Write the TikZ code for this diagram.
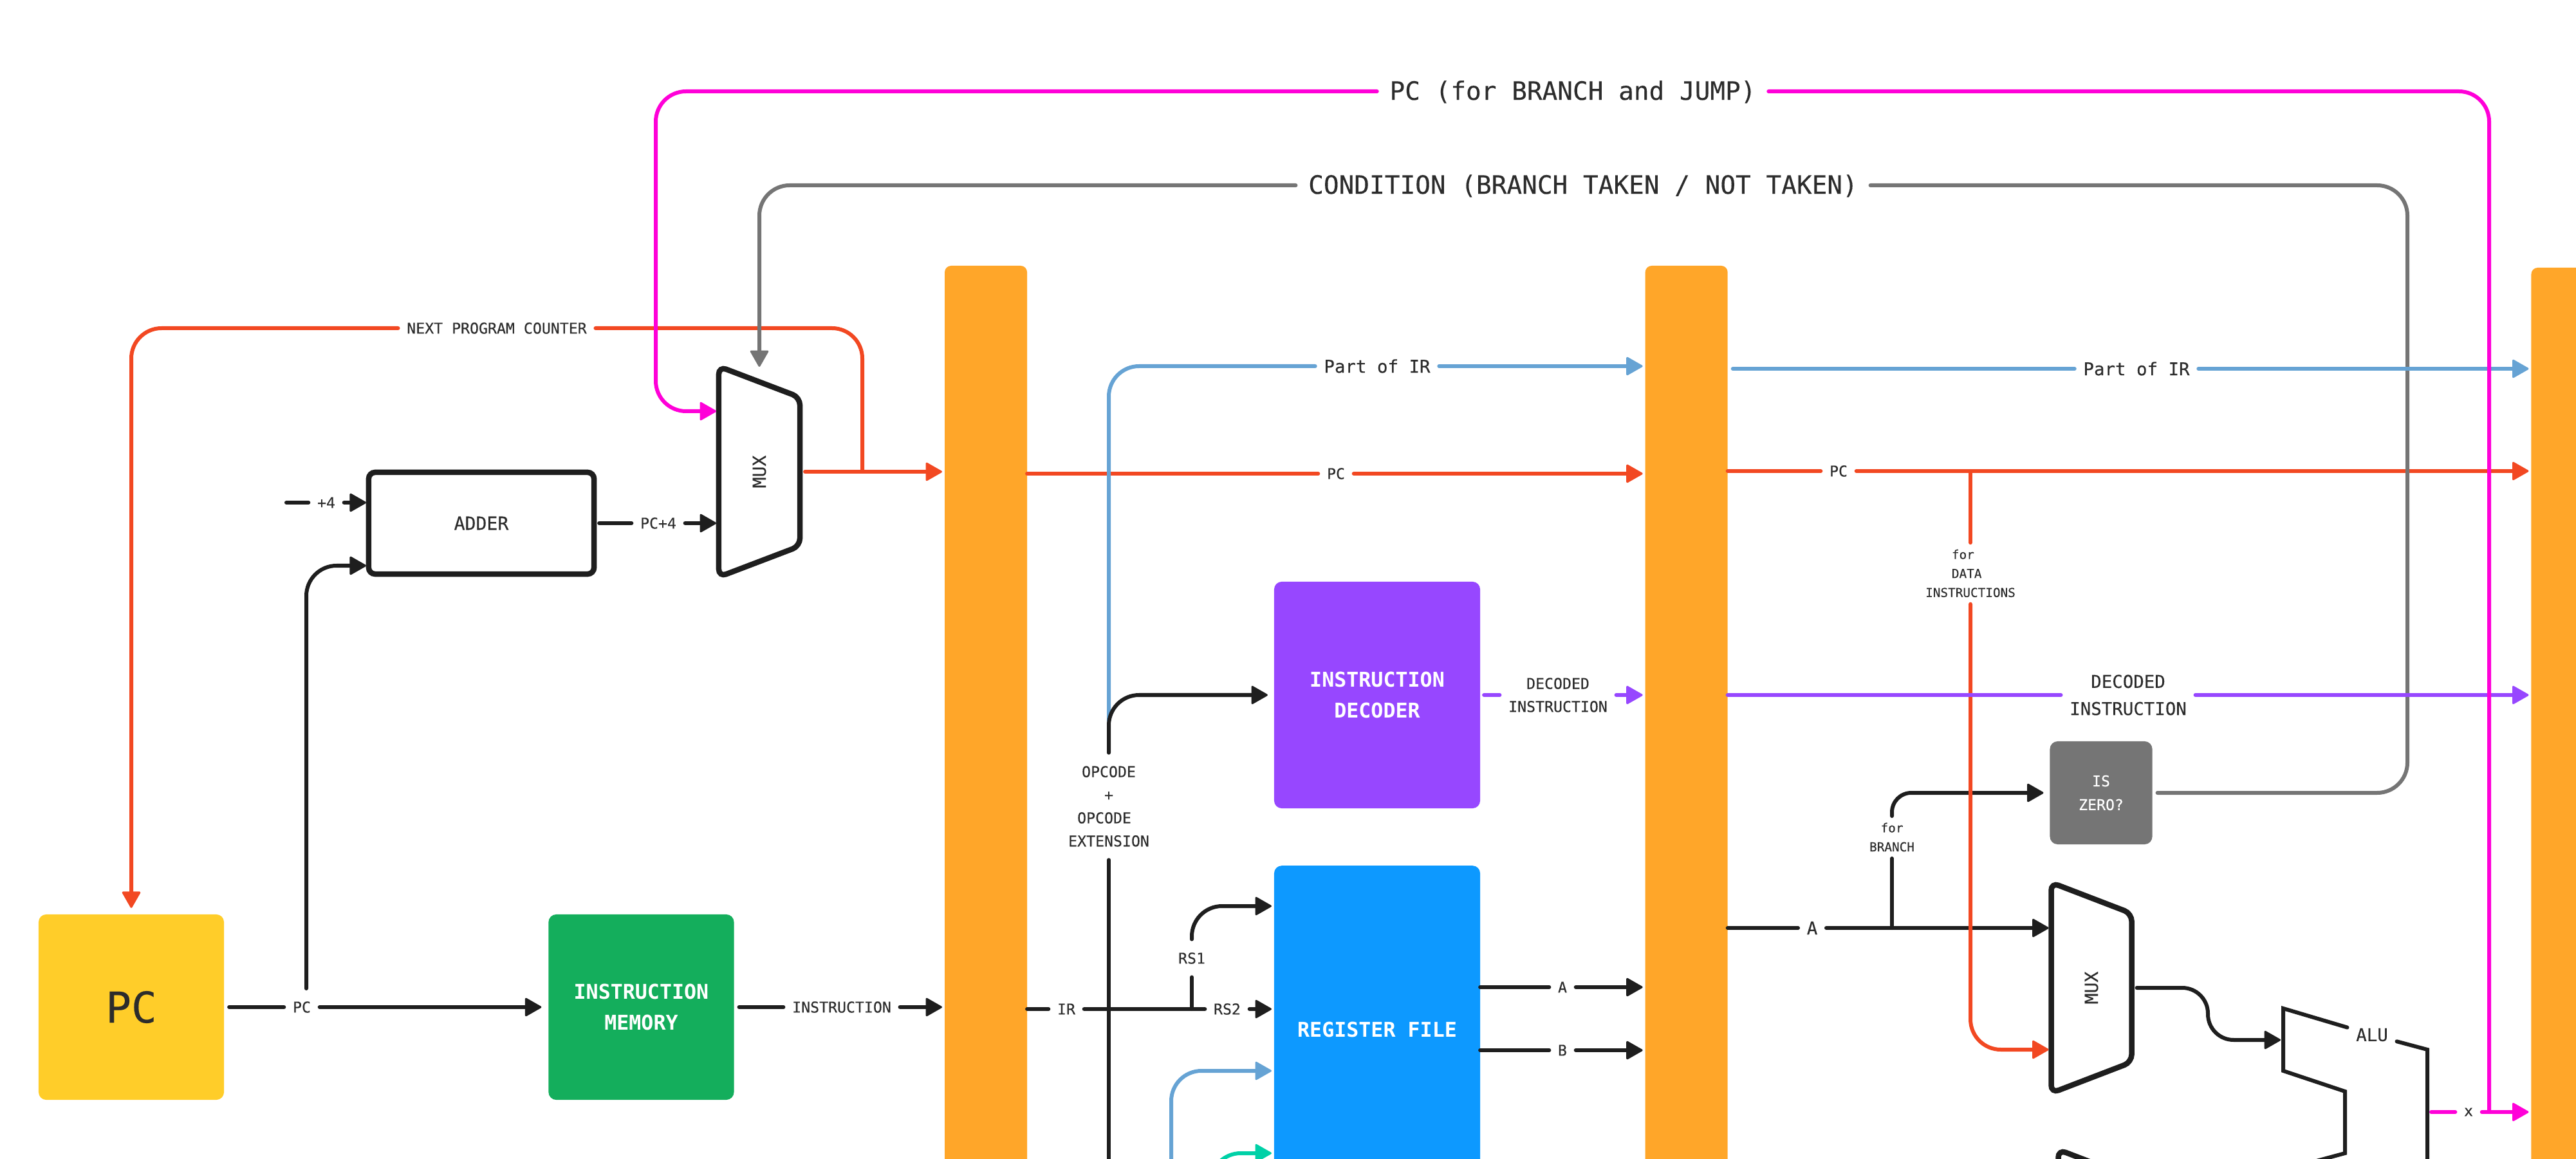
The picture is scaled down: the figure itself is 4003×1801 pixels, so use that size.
\documentclass[tikz,border=0pt]{standalone}
\usepackage{fontspec}
\setmainfont[FakeBold=0.2,BoldFont={DejaVu Sans Mono Bold},BoldFeatures={FakeBold=0}]{DejaVu Sans Mono}
\usetikzlibrary{arrows.meta,positioning}
\definecolor{pcyellow}{HTML}{FFCD29}
\definecolor{memgreen}{HTML}{14AE5C}
\definecolor{decpurple}{HTML}{9747FF}
\definecolor{regblue}{HTML}{0D99FF}
\definecolor{stageorange}{HTML}{FFA629}
\definecolor{zerogray}{HTML}{757575}
\definecolor{wirered}{HTML}{F24822}
\definecolor{wireblue}{HTML}{66A3D4}
\definecolor{wireteal}{HTML}{00D1A7}
\definecolor{wirepink}{HTML}{FF00D8}
\definecolor{ink}{HTML}{1E1E1E}
\definecolor{labelink}{HTML}{2C2C2C}
\begin{document}
\begin{tikzpicture}[
  x=0.01cm,y=-0.01cm,
  box/.style={rounded corners=0.12cm,align=center,inner sep=0pt,outer sep=0pt,text=white,
    font=\fontsize{9}{13.7}\selectfont\bfseries},
  stagebar/.style={fill=stageorange,rounded corners=0.1cm,inner sep=0pt,outer sep=0pt,
    minimum width=1.28cm,minimum height=16cm},
  muxbox/.style={inner sep=0pt,outer sep=0pt,text=labelink,font=\fontsize{8}{10}\selectfont},
  muxline/.style={ink,line width=0.085cm,rounded corners=0.12cm},
  lbl/.style={align=center,inner xsep=0.13cm,inner ysep=0.1cm,text=labelink,
    font=\fontsize{6.6}{10.2}\selectfont},
  lblbig/.style={lbl,inner xsep=0.19cm,text height=0.75em,text depth=0pt,
    font=\fontsize{11.2}{13}\selectfont},
  lblmid/.style={lbl,font=\fontsize{7.8}{12}\selectfont},
  lblsmall/.style={lbl,font=\fontsize{5.5}{8.4}\selectfont},
  w/.style={line width=0.06cm,line cap=round,draw=#1,rounded corners=0.47cm},
  w/.default=ink,
  a/.style={w=#1,-{Triangle[length=2.7mm,width=3mm,round,line width=0.03cm]},
    shorten >=0.04cm},
  a/.default=ink
]
\useasboundingbox (0,0) rectangle (4003,1801);
\clip (0,0) rectangle (4003,1801);

\node[box,fill=pcyellow,text=labelink,minimum width=2.88cm,minimum height=2.88cm,
  font=\fontsize{18.8}{22}\selectfont] (pc) at (204,1565) {PC};
\node[box,fill=memgreen,minimum width=2.88cm,minimum height=2.88cm,right=5.04cm of pc]
  (imem) {INSTRUCTION\\MEMORY};
\node[draw=ink,line width=0.085cm,rounded corners=0.1cm,minimum width=3.5cm,
  minimum height=1.58cm,inner sep=0pt,outer sep=0pt,text=labelink,
  font=\fontsize{8}{10}\selectfont] (adder) at (748,813) {ADDER};
\node[muxbox,minimum width=1.26cm,minimum height=3.27cm] (muxa) at (1180,733)
  {\rotatebox{90}{MUX}};
\node[stagebar,anchor=north west] (stagea) at (1468,413) {};
\node[stagebar,right=9.6cm of stagea] (stageb) {};
\node[stagebar,right=12.48cm of stageb,yshift=-0.03cm] (stagec) {};
\node[box,fill=decpurple,minimum width=3.2cm,minimum height=3.52cm] (decoder)
  at (2140,1080) {INSTRUCTION\\DECODER};
\node[box,fill=regblue,minimum width=3.2cm,minimum height=5.1cm,below=0.89cm of decoder]
  (regfile) {REGISTER FILE};
\node[box,fill=zerogray,minimum width=1.59cm,minimum height=1.6cm,
  font=\fontsize{6.6}{10.5}\selectfont] (iszero) at (3265,1232) {IS\\ZERO?};
\node[muxbox,minimum width=1.25cm,minimum height=3.27cm] (muxb) at (3250,1535)
  {\rotatebox{90}{MUX}};
\node[muxbox,minimum width=1.25cm,minimum height=3.27cm] (muxc) at (3261,1950) {};

\foreach \m in {muxa,muxb,muxc}
  \draw[muxline] (\m.north west) -- ([yshift=-0.48cm]\m.north east)
    -- ([yshift=0.48cm]\m.south east) -- (\m.south west) -- cycle;

\node[lblbig] (lblbranch) at (2444,142) {PC (for BRANCH and JUMP)};
\node[lblbig] (lblcond) at (2460,288) {CONDITION (BRANCH TAKEN / NOT TAKEN)};
\node[lbl] (lblnext) at (772,510) {NEXT PROGRAM COUNTER};
\node[lbl] (lblfour) at (507,781) {+4};
\node[lbl] (lblpcfour) at (1023,813) {PC+4};
\node[lbl] (lblpc) at (469,1565) {PC};
\node[lbl] (lblinstr) at (1308,1565) {INSTRUCTION};
\node[lblmid] (lblparta) at (2140,569) {Part of IR};
\node[lblmid] (lblpartb) at (3320,573) {Part of IR};
\node[lbl] (lblpca) at (2076,736) {PC};
\node[lbl] (lblpcb) at (2857,732) {PC};
\node[lbl] (lbldeca) at (2421,1080) {DECODED\\INSTRUCTION};
\node[lblmid] (lbldecb) at (3307,1080) {DECODED\\INSTRUCTION};
\node[lbl,inner ysep=0.2cm] (lblop) at (1723,1253)
  {OPCODE\\+\\OPCODE\hphantom{x}\\EXTENSION};
\node[lbl] (lblir) at (1657,1568) {IR};
\node[lbl,inner ysep=0.2cm] (lblrsa) at (1852,1489) {RS1};
\node[lbl] (lblrsb) at (1907,1568) {RS2};
\node[lbl] (lblaa) at (2428,1534) {A};
\node[lbl] (lblba) at (2428,1632) {B};
\node[lblmid] (lblab) at (2816,1442) {A};
\node[lblsmall] (lblbr) at (2940,1301) {for\\BRANCH};
\node[lblsmall] (lbldata) at (3062,891) {for\hphantom{xx}\\DATA\hphantom{x}\\INSTRUCTIONS};
\node[lblmid] (lblalu) at (3686,1608) {ALU};
\node[lbl] (lblx) at (3836,1728) {x};

\coordinate (fourin) at (445,781);
\coordinate (pctap) at (476,1536);
\coordinate (nexttap) at (1340,733);
\coordinate (partsrc) at (1723,1120);
\coordinate (opend) at (1723,1900);
\coordinate (rstap) at (1852,1568);
\coordinate (bluein) at (1820,1900);
\coordinate (tealin) at (1881,1900);
\coordinate (datatap) at (3062,732);
\coordinate (brtap) at (2940,1442);
\coordinate (xtap) at (3868,1728);
\coordinate (aluout) at (3778,1728);
\coordinate (aluin) at (3548,1616);

\draw[w,shorten <=0.08cm] (pc) -- (lblpc);
\draw[a,shorten >=0.11cm] (lblpc) -- (imem);
\draw[a] (pctap) |- (adder.west |- 0,879);
\draw[w] (fourin) -- (lblfour);
\draw[a] (lblfour) -- (adder.west |- lblfour);
\draw[w,shorten <=0.08cm] (adder) -- (lblpcfour);
\draw[a] (lblpcfour) -- (muxa.west |- lblpcfour);
\draw[w,shorten <=0.08cm] (imem) -- (lblinstr);
\draw[a] (lblinstr) -- (stagea.west |- lblinstr);

\draw[w] (stagea.east |- lblir) -- (lblir);
\draw[w] (lblir) -- (lblrsb);
\draw[a] (lblrsb) -- (regfile.west |- lblrsb);
\draw[w] (rstap) -- (lblrsa);
\draw[a] (lblrsa) |- (regfile.west |- 0,1408);
\draw[w] (lblop) -- (opend);
\draw[a=wireblue] (bluein) |- (regfile.west |- 0,1664);
\draw[a=wireteal] (tealin) |- (regfile.west |- 0,1792);
\draw[w] (regfile.east |- lblaa) -- (lblaa);
\draw[a] (lblaa) -- (stageb.west |- lblaa);
\draw[w] (regfile.east |- lblba) -- (lblba);
\draw[a] (lblba) -- (stageb.west |- lblba);
\draw[w=decpurple,shorten <=0.06cm] (decoder) -- (lbldeca);
\draw[a=decpurple] (lbldeca) -- (stageb.west |- lbldeca);

\draw[w] (stageb.east |- lblab) -- (lblab);
\draw[a] (lblab) -- (muxb.west |- lblab);
\draw[w] (brtap) -- (lblbr);
\draw[a,rounded corners=0.3cm,shorten >=0.1cm] (lblbr) |- (iszero.west);
\draw[a,rounded corners=0.4cm] ([xshift=0.08cm]muxb.east) -- (3431,1535) -- (3431,1616) -- (aluin);

\draw[w=wirered] (nexttap) |- (lblnext);
\draw[a=wirered,shorten >=0.1cm] (lblnext) -| (pc);
\draw[a=wirered,shorten <=0.08cm] (muxa.east) -- (stagea.west |- muxa);
\draw[w=wirered] (stagea.east |- lblpca) -- (lblpca);
\draw[a=wirered] (lblpca) -- (stageb.west |- lblpca);
\draw[w=wirered] (stageb.east |- lblpcb) -- (lblpcb);
\draw[a=wirered] (lblpcb) -- (stagec.west |- lblpcb);
\draw[w=wirered] (datatap) -- (lbldata);
\draw[a=wirered] (lbldata) |- (muxb.west |- 0,1631);

\draw[w=wireblue] (partsrc) |- (lblparta);
\draw[a=wireblue] (lblparta) -- (stageb.west |- lblparta);
\draw[a,shorten >=0.1cm] (lblop) |- (decoder.west);

\draw[w=zerogray,shorten <=0.08cm] (iszero) -| (3741,288) -- (lblcond);
\draw[a=zerogray] (lblcond) -| (muxa.north |- 0,574);

\draw[w=wireblue,shorten <=0.08cm] (stageb.east |- lblpartb) -- (lblpartb);
\draw[a=wireblue] (lblpartb) -- (stagec.west |- lblpartb);
\draw[w=decpurple] (stageb.east |- lbldecb) -- (lbldecb);
\draw[a=decpurple] (lbldecb) -- (stagec.west |- lbldecb);

\draw[w=wirepink] (lblbranch) -| (xtap);
\draw[a=wirepink] (lblbranch) -| (1019,639) -- (muxa.west |- 0,639);
\draw[w=wirepink] (aluout) -- (lblx);
\draw[a=wirepink] (lblx) -- (stagec.west |- lblx);

\draw[ink,line width=0.06cm,line cap=round] (lblalu) -- (3548,1567) -- (3548,1664)
  -- (3644,1696) -- (3644,1792) -- (3548,1818);
\draw[ink,line width=0.06cm,line cap=round] (lblalu) -- (3772,1631) -- (3772,1900);
\end{tikzpicture}
\end{document}
